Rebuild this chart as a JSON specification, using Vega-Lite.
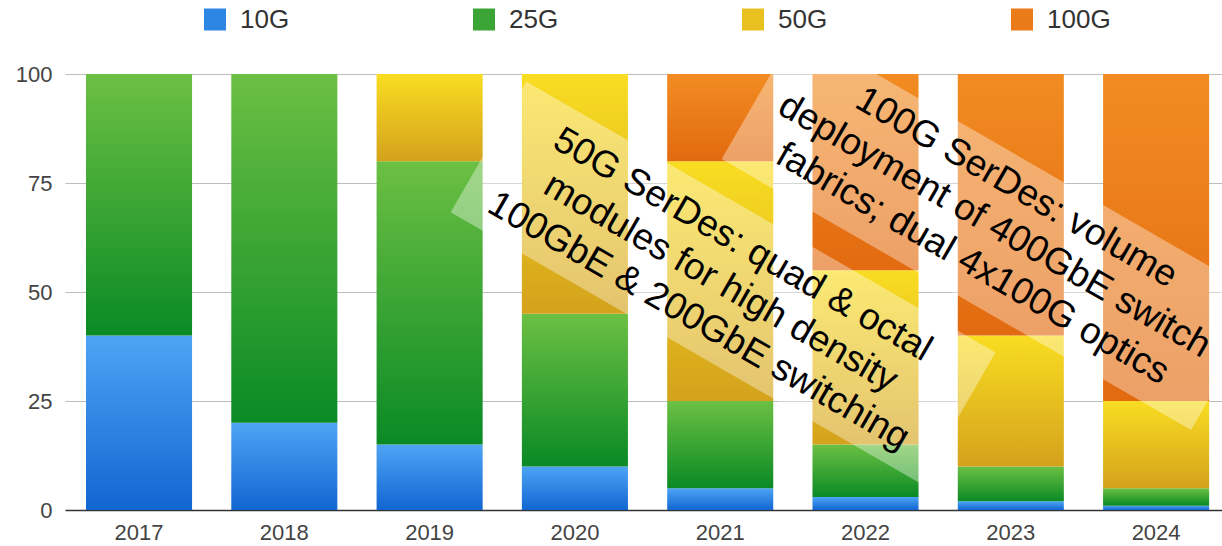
{
  "$schema": "https://vega.github.io/schema/vega-lite/v6.json",
  "width": 1157,
  "height": 436,
  "autosize": "none",
  "padding": {"left": 65, "top": 74, "right": 0, "bottom": 36},
  "background": "white",
  "config": {
    "view": {"stroke": null},
    "font": "Liberation Sans"
  },
  "datasets": {
    "shares": [
      {"year": "2017", "speed": "10G", "share": 40},
      {"year": "2017", "speed": "25G", "share": 60},
      {"year": "2017", "speed": "50G", "share": 0},
      {"year": "2017", "speed": "100G", "share": 0},
      {"year": "2018", "speed": "10G", "share": 20},
      {"year": "2018", "speed": "25G", "share": 80},
      {"year": "2018", "speed": "50G", "share": 0},
      {"year": "2018", "speed": "100G", "share": 0},
      {"year": "2019", "speed": "10G", "share": 15},
      {"year": "2019", "speed": "25G", "share": 65},
      {"year": "2019", "speed": "50G", "share": 20},
      {"year": "2019", "speed": "100G", "share": 0},
      {"year": "2020", "speed": "10G", "share": 10},
      {"year": "2020", "speed": "25G", "share": 35},
      {"year": "2020", "speed": "50G", "share": 55},
      {"year": "2020", "speed": "100G", "share": 0},
      {"year": "2021", "speed": "10G", "share": 5},
      {"year": "2021", "speed": "25G", "share": 20},
      {"year": "2021", "speed": "50G", "share": 55},
      {"year": "2021", "speed": "100G", "share": 20},
      {"year": "2022", "speed": "10G", "share": 3},
      {"year": "2022", "speed": "25G", "share": 12},
      {"year": "2022", "speed": "50G", "share": 40},
      {"year": "2022", "speed": "100G", "share": 45},
      {"year": "2023", "speed": "10G", "share": 2},
      {"year": "2023", "speed": "25G", "share": 8},
      {"year": "2023", "speed": "50G", "share": 30},
      {"year": "2023", "speed": "100G", "share": 60},
      {"year": "2024", "speed": "10G", "share": 1},
      {"year": "2024", "speed": "25G", "share": 4},
      {"year": "2024", "speed": "50G", "share": 20},
      {"year": "2024", "speed": "100G", "share": 75}
    ],
    "notes": [
      {"note": "50G", "bx": 2021.02, "by": 52.2, "tx": 2021.154, "ty": 60.8, "text": "50G SerDes: quad & octal\nmodules for high density\n100GbE & 200GbE switching"},
      {"note": "100G", "bx": 2022.885, "by": 64.4, "tx": 2023.039, "ty": 73.9, "text": "100G SerDes: volume\ndeployment of 400GbE switch\nfabrics; dual 4x100G optics"}
    ]
  },
  "layer": [
    {
      "data": {"name": "shares"},
      "transform": [
        {"stack": "share", "groupby": ["year"], "as": ["s0", "s1"]}
      ],
      "encoding": {
        "x": {
          "field": "year",
          "type": "nominal",
          "scale": {"paddingInner": 0.27, "paddingOuter": 0.1165, "align": 0.62},
          "axis": {
            "title": null,
            "labelAngle": 0,
            "labelFontSize": 22,
            "labelColor": "#444",
            "labelPadding": 12,
            "ticks": false,
            "domain": true,
            "domainColor": "#333",
            "domainWidth": 1.5,
            "grid": false
          }
        },
        "y": {
          "field": "s0",
          "type": "quantitative",
          "scale": {"domain": [0, 100], "nice": false},
          "axis": {
            "title": null,
            "values": [0, 25, 50, 75, 100],
            "labelFontSize": 22,
            "labelColor": "#444",
            "labelPadding": 13,
            "ticks": false,
            "domain": false,
            "grid": true,
            "gridColor": "#bdbdbd",
            "gridWidth": 1
          }
        },
        "y2": {"field": "s1"}
      },
      "layer": [
        {
          "mark": {"type": "bar", "opacity": 0},
          "encoding": {
            "color": {
              "field": "speed",
              "type": "nominal",
              "scale": {
                "domain": ["10G", "25G", "50G", "100G"],
                "range": ["#2e86e4", "#3aa535", "#e8c020", "#ea7b18"]
              },
              "legend": {
                "title": null,
                "orient": "none",
                "direction": "horizontal",
                "legendX": 137,
                "legendY": -67.5,
                "symbolType": "square",
                "symbolSize": 484,
                "symbolOpacity": 1,
                "symbolStrokeWidth": 0,
                "labelFontSize": 26,
                "labelColor": "#333",
                "labelOffset": 12,
                "columnPadding": 181
              }
            }
          }
        },
        {
          "transform": [{"filter": "datum.speed === '10G'"}],
          "mark": {"type": "bar", "color": {"gradient": "linear", "x1": 0, "y1": 0, "x2": 0, "y2": 1, "stops": [{"offset": 0, "color": "#4ea4f4"}, {"offset": 1, "color": "#1166d2"}]}}
        },
        {
          "transform": [{"filter": "datum.speed === '25G'"}],
          "mark": {"type": "bar", "color": {"gradient": "linear", "x1": 0, "y1": 0, "x2": 0, "y2": 1, "stops": [{"offset": 0, "color": "#6cc043"}, {"offset": 1, "color": "#0a8a25"}]}}
        },
        {
          "transform": [{"filter": "datum.speed === '50G'"}],
          "mark": {"type": "bar", "color": {"gradient": "linear", "x1": 0, "y1": 0, "x2": 0, "y2": 1, "stops": [{"offset": 0, "color": "#f9dd22"}, {"offset": 1, "color": "#d4a21c"}]}}
        },
        {
          "transform": [{"filter": "datum.speed === '100G'"}],
          "mark": {"type": "bar", "color": {"gradient": "linear", "x1": 0, "y1": 0, "x2": 0, "y2": 1, "stops": [{"offset": 0, "color": "#f28c22"}, {"offset": 1, "color": "#e26a10"}]}}
        }
      ]
    },
    {
      "data": {"name": "notes"},
      "mark": {
        "type": "point",
        "shape": "M-1,-0.2786 L1,-0.2786 L1,0.2786 L-1,0.2786 Z",
        "filled": true,
        "fill": "white",
        "fillOpacity": 0.37,
        "opacity": 1,
        "strokeWidth": 0,
        "size": 293764,
        "angle": 30
      },
      "encoding": {
        "x": {"field": "bx", "type": "quantitative", "scale": {"domain": [2016.4907, 2024.4535], "nice": false, "zero": false}, "axis": null},
        "y": {"field": "by", "type": "quantitative"}
      }
    },
    {
      "data": {"name": "notes"},
      "mark": {
        "type": "text",
        "angle": 30,
        "align": "center",
        "baseline": "middle",
        "fontSize": 37,
        "lineHeight": 44,
        "lineBreak": "\n",
        "color": "black",
        "font": "Liberation Sans"
      },
      "encoding": {
        "x": {"field": "tx", "type": "quantitative", "scale": {"domain": [2016.4907, 2024.4535], "nice": false, "zero": false}, "axis": null},
        "y": {"field": "ty", "type": "quantitative"},
        "text": {"field": "text", "type": "nominal"}
      }
    }
  ],
  "resolve": {"scale": {"x": "independent"}}
}
